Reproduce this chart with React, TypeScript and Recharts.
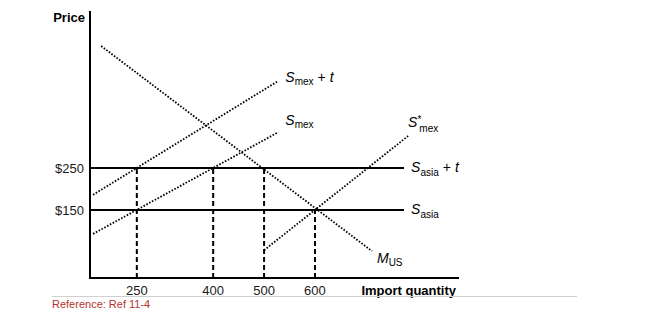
import React from 'react';
import { ComposedChart, Line, XAxis, YAxis, LabelList } from 'recharts';

// ---- data ----
const xTicks = [250, 400, 500, 600];
const yTicks = [150, 250];
const mUS = [{ x: 180, y: 540 }, { x: 712, y: 52 }];
const sMexT = [{ x: 164, y: 186 }, { x: 528, y: 457 }];
const sMex = [{ x: 164, y: 93 }, { x: 528, y: 335 }];
const sMexStar = [{ x: 500, y: 54 }, { x: 783, y: 326 }];
const sAsiaT = [{ x: 158, y: 250 }, { x: 775, y: 250 }];
const sAsia = [{ x: 158, y: 150 }, { x: 775, y: 150 }];
const drop250 = [{ x: 250, y: -12 }, { x: 250, y: 250 }];
const drop400 = [{ x: 400, y: -12 }, { x: 400, y: 250 }];
const drop500 = [{ x: 500, y: -12 }, { x: 500, y: 250 }];
const drop600 = [{ x: 600, y: -12 }, { x: 600, y: 150 }];

const FONT = '"Liberation Sans", Arial, Helvetica, sans-serif';

const endLabel = (last: number, dx: number, dy: number, body: (x: number, y: number) => React.ReactNode) =>
  (props: any) => {
    if (props.index !== last) return null;
    return <g>{body(Number(props.x) + dx, Number(props.y) + dy)}</g>;
  };

const subLabel = (main: string, sub: string, plusT: boolean, subDy = 3) => (x: number, y: number) => (
  <text x={x} y={y} fontFamily={FONT} fill="#000">
    <tspan fontStyle="italic" fontSize={14}>{main}</tspan>
    <tspan fontSize={10} dy={subDy}>{sub}</tspan>
    {plusT ? <tspan fontSize={14} dy={-subDy} dx={4}>+</tspan> : null}
    {plusT ? <tspan fontSize={14} fontStyle="italic" dx={4}>t</tspan> : null}
  </text>
);

const starLabel = (x: number, y: number) => (
  <text x={x} y={y} fontFamily={FONT} fill="#000">
    <tspan fontStyle="italic" fontSize={14}>S</tspan>
    <tspan fontSize={10} dy={-4}>*</tspan>
    <tspan fontSize={10} dy={9} dx={-2}>mex</tspan>
  </text>
);

const dotted = { stroke: '#000', strokeWidth: 1.8, strokeDasharray: '1.6 1.6' };
const dashed = { stroke: '#000', strokeWidth: 2, strokeDasharray: '5 3' };
const solid = { stroke: '#000', strokeWidth: 2 };

export default function App() {
  return (
    <div style={{ position: 'absolute', left: 0, top: 0, width: 650, height: 314, background: '#fff' }}>
      <ComposedChart width={650} height={314} margin={{ top: 12, right: 192, bottom: 16, left: 50 }}>
        <XAxis
          type="number"
          dataKey="x"
          domain={[158, 881]}
          ticks={xTicks}
          allowDataOverflow
          height={20}
          tickLine={false}
          tickSize={6}
          tickMargin={2}
          axisLine={{ stroke: '#000', strokeWidth: 2, strokeLinecap: 'square' }}
          tick={{ fill: '#1a1a1a', fontSize: 13, fontFamily: FONT }}
          label={{
            content: (p: any) => {
              const vb = p.viewBox || { x: 90, y: 278, width: 368 };
              return (
                <text x={vb.x + vb.width - 2} y={vb.y + 17} textAnchor="end" fontFamily={FONT}
                  fontSize={13} fontWeight="bold" fill="#000">Import quantity</text>
              );
            },
          }}
        />
        <YAxis
          type="number"
          dataKey="y"
          domain={[-12, 621]}
          ticks={yTicks}
          allowDataOverflow
          width={40}
          tickLine={false}
          tickSize={4}
          tickMargin={2}
          tickFormatter={(v: number) => '$' + v}
          axisLine={{ stroke: '#000', strokeWidth: 2, strokeLinecap: 'square' }}
          tick={{ fill: '#1a1a1a', fontSize: 13, fontFamily: FONT }}
          label={{
            content: (p: any) => {
              const vb = p.viewBox || { x: 50, y: 12, width: 40 };
              return (
                <text x={vb.x + vb.width - 5} y={vb.y + 10} textAnchor="end" fontFamily={FONT}
                  fontSize={13} fontWeight="bold" fill="#000">Price</text>
              );
            },
          }}
        />
        <Line data={sAsiaT} dataKey="y" {...solid} dot={false} activeDot={false} isAnimationActive={false}>
          <LabelList dataKey="y" content={endLabel(1, 7, 4, subLabel('S', 'asia', true, 4))} />
        </Line>
        <Line data={sAsia} dataKey="y" {...solid} dot={false} activeDot={false} isAnimationActive={false}>
          <LabelList dataKey="y" content={endLabel(1, 7, 4, subLabel('S', 'asia', false, 4))} />
        </Line>
        <Line data={drop250} dataKey="y" {...dashed} dot={false} activeDot={false} isAnimationActive={false} />
        <Line data={drop400} dataKey="y" {...dashed} dot={false} activeDot={false} isAnimationActive={false} />
        <Line data={drop500} dataKey="y" {...dashed} dot={false} activeDot={false} isAnimationActive={false} />
        <Line data={drop600} dataKey="y" {...dashed} dot={false} activeDot={false} isAnimationActive={false} />
        <Line data={mUS} dataKey="y" {...dotted} dot={false} activeDot={false} isAnimationActive={false}>
          <LabelList dataKey="y" content={endLabel(1, 5, 12, subLabel('M', 'US', false, 3))} />
        </Line>
        <Line data={sMexT} dataKey="y" {...dotted} dot={false} activeDot={false} isAnimationActive={false}>
          <LabelList dataKey="y" content={endLabel(1, 7, 1, subLabel('S', 'mex', true, 3))} />
        </Line>
        <Line data={sMex} dataKey="y" {...dotted} dot={false} activeDot={false} isAnimationActive={false}>
          <LabelList dataKey="y" content={endLabel(1, 7, -7, subLabel('S', 'mex', false, 3))} />
        </Line>
        <Line data={sMexStar} dataKey="y" {...dotted} dot={false} activeDot={false} isAnimationActive={false}>
          <LabelList dataKey="y" content={endLabel(1, 0, -9, starLabel)} />
        </Line>
      </ComposedChart>
      <svg width={650} height={314} style={{ position: 'absolute', left: 0, top: 0, pointerEvents: 'none' }}>
        <line x1={52} y1={296.5} x2={577} y2={296.5} stroke="#d0d0d0" strokeWidth={1} />
        <text x={52} y={308} fontFamily={FONT} fontSize={11} fill="#b3322f">Reference: Ref 11-4</text>
      </svg>
    </div>
  );
}
